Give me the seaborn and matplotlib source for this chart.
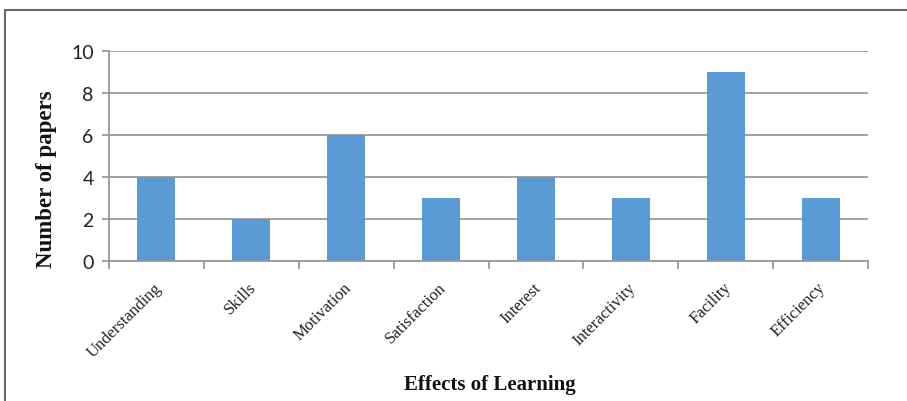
import matplotlib
matplotlib.use("Agg")
import matplotlib.pyplot as plt
import seaborn as sns
import pandas as pd
from matplotlib.lines import Line2D
import matplotlib.transforms as mtrans

categories = ["Understanding", "Skills", "Motivation", "Satisfaction",
              "Interest", "Interactivity", "Facility", "Efficiency"]
values = [4, 2, 6, 3, 4, 3, 9, 3]
yticks = [0, 2, 4, 6, 8, 10]

df = pd.DataFrame({"effect": categories, "papers": values})

sns.set_theme(style="white")
fig = plt.figure(figsize=(9.07, 4.02), dpi=100)
ax = fig.add_axes([109/907, 1 - 262/402, (868-109)/907, (262-52)/402])

sns.barplot(data=df, x="effect", y="papers", color="#5B9BD5", width=0.4,
            saturation=1, ax=ax, edgecolor="none")

ax.set_ylim(0, 10)
ax.set_xlim(-0.5, len(categories) - 0.5)
ax.set_yticks(yticks)
ax.set_yticklabels([str(t) for t in yticks], fontsize=14, family="Lato", color="#222222")
ax.yaxis.grid(True, color="#9a9a9a", linewidth=1.3)
ax.set_axisbelow(True)
for s in ["top", "right"]:
    ax.spines[s].set_visible(False)
ax.spines["left"].set_color("#9a9a9a")
ax.spines["bottom"].set_color("#9a9a9a")
ax.spines["left"].set_linewidth(1.3)
ax.spines["bottom"].set_linewidth(1.3)

ax.tick_params(axis="y", which="both", left=True, length=5, width=1.3, color="#9a9a9a", pad=6)
ax.set_xticks(range(len(categories)))
ax.set_xticklabels(categories, rotation=45, ha="right", rotation_mode="anchor",
                   fontsize=12, family="Liberation Serif", color="#222222")
ax.tick_params(axis="x", which="major", bottom=False, pad=7)
ax.set_xticks([i - 0.5 for i in range(len(categories) + 1)], minor=True)
ax.tick_params(axis="x", which="minor", bottom=True, length=6, width=1.3, color="#9a9a9a")

offset = mtrans.ScaledTranslation(-3/100, 0, fig.dpi_scale_trans)
for lbl in ax.get_xticklabels():
    lbl.set_transform(lbl.get_transform() + offset)

ax.set_xlabel("Effects of Learning", fontsize=15, family="Liberation Serif",
              fontweight="bold", color="#111111")
ax.xaxis.set_label_coords((490-109)/(868-109), -(375-262)/(262-52))
ax.set_ylabel("Number of papers", fontsize=16.5, family="Liberation Serif",
              fontweight="bold", color="#111111")
ax.yaxis.set_label_coords(-(109-57)/(868-109), (262-179)/(262-52))

fig.add_artist(Line2D([5/907, 1], [1 - 11/402, 1 - 11/402], color="#666666", linewidth=1.5,
                      transform=fig.transFigure))
fig.add_artist(Line2D([5/907, 5/907], [0, 1 - 11/402], color="#666666", linewidth=1.5,
                      transform=fig.transFigure))

fig.savefig("out.png", dpi=100)
